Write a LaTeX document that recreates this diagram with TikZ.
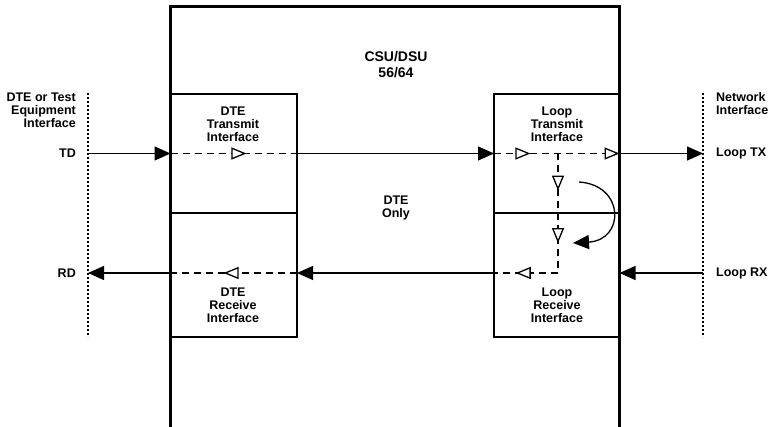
\documentclass[tikz,border=0pt]{standalone}
\usepackage{fontspec}
\setmainfont{Liberation Sans}
\usetikzlibrary{arrows.meta,positioning,calc,decorations.markings}
\tikzset{
  otip/.tip={Triangle[fill=white, length=15pt, width=12pt]},
  ftip/.tip={Triangle[length=16pt, width=14pt]},
  unitbox/.style={draw, line width=3pt, minimum width=449pt, minimum height=426.5pt,
                  inner sep=0pt, outer sep=0pt},
  ifbox/.style={draw, line width=1.5pt, minimum width=#1, inner sep=0pt, outer sep=0pt},
  lbl/.style={font=\bfseries\fontsize{12.5}{13}\selectfont, align=center, inner sep=0pt},
  ttl/.style={font=\bfseries\fontsize{14}{16}\selectfont, align=center, inner sep=0pt},
  sig/.style={line width=1.3pt, -ftip},
  dsig/.style={line width=1.3pt, dash pattern=on 7pt off 5pt},
  otri/.style={postaction={decorate},
               decoration={markings, mark=at position #1 with {\arrow{otip}}}},
  guide/.style={line width=1.2pt, dash pattern=on 2pt off 2pt},
}
\begin{document}
\begin{tikzpicture}[x=1pt, y=-1pt]
\useasboundingbox (0,0) rectangle (773,427);

% CSU/DSU unit and interface blocks
\node[unitbox] (csu) at (395,219.75) {};
\node[ifbox=126.5pt, minimum height=119pt] (dtetx) at (233.75,153.5) {};
\node[ifbox=126.5pt, minimum height=124pt] (dterx) at (233.75,275) {};
\node[ifbox=125.5pt, minimum height=119pt] (looptx) at (556.75,153.5) {};
\node[ifbox=125.5pt, minimum height=124pt] (looprx) at (556.75,275) {};

% Block labels
\node[ttl] (title) at (396,65) {CSU/DSU\\56/64};
\node[lbl] (dteonly) at (396,207.5) {DTE\\Only};
\node[lbl] (dtetxlbl) at (233,124) {DTE\\Transmit\\Interface};
\node[lbl] (dterxlbl) at (233,305) {DTE\\Receive\\Interface};
\node[lbl] (looptxlbl) at (557,124) {Loop\\Transmit\\Interface};
\node[lbl] (looprxlbl) at (557,305) {Loop\\Receive\\Interface};

% Interface boundaries
\coordinate (dtetop) at (88,93);
\coordinate (dtebot) at (88,337);
\coordinate (nettop) at (703,93);
\coordinate (netbot) at (703,337);
\draw[guide] (dtetop) -- (dtebot);
\draw[guide] (nettop) -- (netbot);
\node[lbl, align=right, anchor=east] (dteif) at (76,110) {DTE or Test\\Equipment\\Interface};
\node[lbl, align=left, anchor=west] (netif) at (716,103.5) {Network\\Interface};

% Signal end points
\coordinate (td) at (88,153.5);
\coordinate (rd) at (88,273);
\coordinate (looptxend) at (703,153.5);
\coordinate (looprxend) at (703,273);
\node[lbl, anchor=east] (tdlbl) at (76,153.5) {TD};
\node[lbl, anchor=east] (rdlbl) at (76,273) {RD};
\node[lbl, anchor=west] (txlbl) at (716,153.5) {Loop TX};
\node[lbl, anchor=west] (rxlbl) at (716,273) {Loop RX};

% Transmit path
\draw[sig] (td) -- (td -| csu.west);
\draw[dsig, otri=0.6] (td -| dtetx.west) -- (td -| dtetx.east);
\draw[sig] (td -| dtetx.east) -- (td -| looptx.west);
\draw[dsig, otri=0.29, -otip] (td -| looptx.west) -- (td -| looptx.east);
\draw[sig] (td -| csu.east) -- (looptxend);

% Loopback path
\coordinate (br) at (558,153.5);
\coordinate (brc) at (558,273);
\draw[dsig, postaction={decorate},
      decoration={markings, mark=at position 0.31 with {\arrow{otip}},
                  mark=at position 0.75 with {\arrow{otip}}}] (br) -- (brc);
\draw[dsig, otri=0.66] (brc) -- (rd -| looprx.west);
\coordinate (lpa) at (579,182);
\coordinate (lpb) at (573,243);
\draw[sig] (lpa) .. controls (625,185) and (625,240) .. (lpb);

% Receive path
\draw[sig] (looprxend) -- (rd -| csu.east);
\draw[sig] (rd -| looprx.west) -- (rd -| dterx.east);
\draw[dsig, otri=0.58] (rd -| dterx.east) -- (rd -| dterx.west);
\draw[sig] (rd -| csu.west) -- (rd);

\end{tikzpicture}
\end{document}
